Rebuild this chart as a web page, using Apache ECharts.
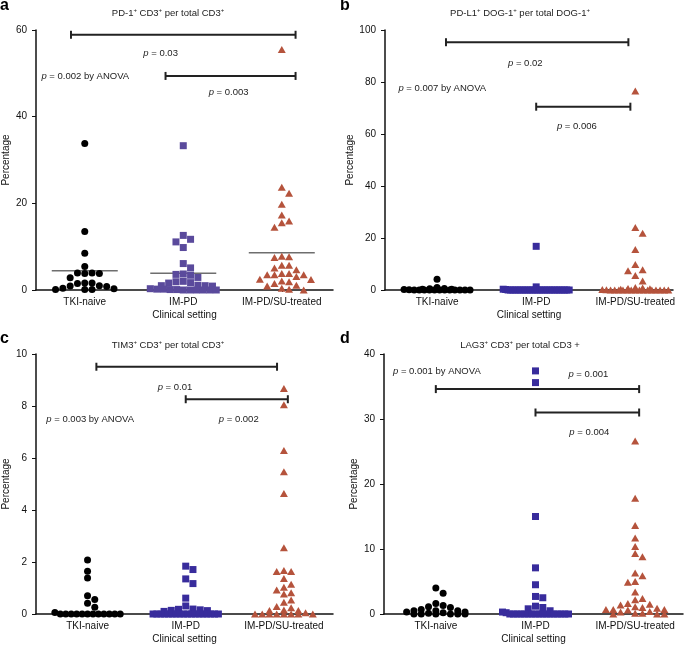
<!DOCTYPE html>
<html>
<head>
<meta charset="utf-8">
<script src="https://cdn.jsdelivr.net/npm/echarts@6/dist/echarts.min.js"></script>
<style>html,body{margin:0;padding:0;background:#fff}#c{width:685px;height:645px}</style>
</head>
<body>
<div id="c"></div>
<script>
// ---------- data ----------
const categories = ['TKI-naive', 'IM-PD', 'IM-PD/SU-treated'];

// panel a: PD-1+ CD3+ per total CD3+
const aTKI  = [33.8, 13.5, 8.5, 5.4, 3.9, 3.8, 3.8, 3.9, 2.8, 1.6, 1.6, 1.5, 1.0, 0.9, 0.8, 0.4, 0.1, 0.1, 0.1, 0.3];
const aIMPD = [33.3, 12.6, 11.7, 11.1, 9.8, 6.1, 5.1, 3.7, 3.6, 3.4, 2.9, 2.0, 1.9, 1.7, 1.6, 1.1, 1.0, 0.9, 1.0, 0.3, 0.2, 0.2, 0.1, 0.1, 0, 0, 0, 0, 0, 0];
const aSU   = [55.5, 23.7, 22.3, 19.8, 17.3, 15.9, 15.5, 14.5, 7.8, 7.7, 7.5, 5.7, 5.7, 5.1, 4.7, 3.8, 3.8, 3.5, 3.5, 3.5, 3.1, 2.5, 2.4, 2.1, 1.9, 1.5, 1.1, 0.9, 0.4, 0.2, 0.0];
const aMeans = [4.45, 3.85, 8.6];
const aBrackets = [[-0.14, 2.14, 58.9], [0.82, 2.14, 49.4]];
const aTexts = [[0.77, 54.7, 'p = 0.03', 'center'], [-0.44, 49.4, 'p = 0.002 by ANOVA', 'left'], [1.46, 45.5, 'p = 0.003', 'center']];

// panel b: PD-L1+ DOG-1+ per total DOG-1+
const bTKI  = [4.1, 1.0, 0.6, 0.5, 0.3, 0.3, 0.2, 0.1, 0, 0, 0, 0, 0, 0, 0, 0, 0, 0, 0, 0];
const bIMPD = [16.8, 1.2, 0.3, 0.2, 0, 0, 0, 0, 0, 0, 0, 0, 0, 0, 0, 0, 0, 0, 0, 0, 0, 0, 0, 0, 0, 0, 0, 0, 0, 0];
const bSU   = [76.5, 24.0, 21.8, 15.6, 9.8, 7.8, 7.4, 5.6, 3.5, 1.0, 0.8, 0.6, 0.5, 0.3, 0.2, 0.1, 0, 0, 0, 0, 0, 0, 0, 0, 0, 0, 0, 0, 0, 0, 0];
const bBrackets = [[0.09, 1.93, 95.3], [1.0, 1.95, 70.5]];
const bTexts = [[0.89, 87.0, 'p = 0.02', 'center'], [-0.39, 77.6, 'p = 0.007 by ANOVA', 'left'], [1.41, 62.8, 'p = 0.006', 'center']];

// panel c: TIM3+ CD3+ per total CD3+
const cTKI  = [2.08, 1.64, 1.38, 0.70, 0.56, 0.41, 0.26, 0.06, 0, 0, 0, 0, 0, 0, 0, 0, 0, 0, 0, 0];
const cIMPD = [1.84, 1.71, 1.35, 1.17, 0.61, 0.31, 0.19, 0.18, 0.16, 0.14, 0.13, 0.1, 0, 0, 0, 0, 0, 0, 0, 0, 0, 0, 0, 0, 0, 0, 0, 0, 0, 0];
const cSU   = [8.67, 8.05, 6.29, 5.47, 4.63, 2.55, 1.67, 1.63, 1.63, 1.37, 1.14, 1.03, 0.92, 0.82, 0.77, 0.54, 0.45, 0.29, 0.24, 0.15, 0.13, 0.13, 0.05, 0, 0, 0, 0, 0, 0, 0, 0];
const cBrackets = [[0.09, 1.93, 9.51], [1.0, 2.04, 8.26]];
const cTexts = [[0.89, 8.72, 'p = 0.01', 'center'], [-0.42, 7.49, 'p = 0.003 by ANOVA', 'left'], [1.54, 7.49, 'p = 0.002', 'center']];

// panel d: LAG3+ CD3+ per total CD3 +
const dTKI  = [4.0, 3.2, 1.6, 1.3, 1.1, 1.0, 0.7, 0.5, 0.5, 0.5, 0.3, 0.3, 0.2, 0.1, 0, 0, 0, 0, 0, 0];
const dIMPD = [37.4, 35.6, 15.0, 7.1, 4.5, 2.7, 2.5, 1.2, 1.0, 0.8, 0.5, 0.3, 0.2, 0, 0, 0, 0, 0, 0, 0, 0, 0, 0, 0, 0, 0, 0, 0, 0, 0];
const dSU   = [26.6, 17.8, 13.6, 11.7, 10.4, 9.3, 8.8, 6.3, 5.9, 5.0, 4.9, 3.4, 2.4, 2.2, 1.6, 1.5, 1.4, 1.1, 1.0, 0.9, 0.7, 0.7, 0.7, 0.6, 0.4, 0.3, 0.1, 0.1, 0, 0, 0];
const dBrackets = [[0, 2.04, 34.6], [1.0, 2.04, 31.0]];
const dTexts = [[-0.43, 37.3, 'p = 0.001 by ANOVA', 'left'], [1.53, 36.9, 'p = 0.001', 'center'], [1.54, 27.9, 'p = 0.004', 'center']];

const yMaxes = [60, 100, 10, 40];
const yIntervals = [20, 20, 2, 10];
const titles = [
  'PD-1{s|+} CD3{s|+} per total CD3{s|+}',
  'PD-L1{s|+} DOG-1{s|+} per total DOG-1{s|+}',
  'TIM3{s|+} CD3{s|+} per total CD3{s|+}',
  'LAG3{s|+} CD3{s|+} per total CD3 +'
];
const letters = ['a', 'b', 'c', 'd'];

// ---------- layout / style ----------
const FONT = '"Liberation Sans", Arial, Helvetica, sans-serif';
const grids = [
  {left: 36, top: 30, width: 297, height: 260},
  {left: 385, top: 30, width: 288, height: 260},
  {left: 33, top: 354, width: 300, height: 260},
  {left: 384, top: 354, width: 299, height: 260}
];
const xRanges = [[-0.495, 2.52], [-0.525, 2.38], [-0.525, 2.5], [-0.52, 2.48]];
const panelData = [[aTKI, aIMPD, aSU], [bTKI, bIMPD, bSU], [cTKI, cIMPD, cSU], [dTKI, dIMPD, dSU]];
const panelBrackets = [aBrackets, bBrackets, cBrackets, dBrackets];
const panelTexts = [aTexts, bTexts, cTexts, dTexts];
const symbols = ['circle', 'rect', 'triangle'];
const symbolSizes = [7, 7, [8, 7]];
const colorsA = ['#000000', '#5a4a9c', '#b5533c'];
const colorsB = ['#000000', '#382c9c', '#b5533c'];
const titlePos = [[168, 13], [520, 13], [168, 345], [520, 345]];
const letterPos = [[0, 6], [340, 6], [0, 339], [340, 339]];

// beeswarm offsets (pixels) computed from values
function swarm(values, ph, d, wmax) {
  const idx = values.map((v, i) => i).sort((a, b) => values[b] - values[a]);
  const placed = [];
  const off = new Array(values.length).fill(0);
  const maxSlot = Math.floor(wmax / d / 2 + 0.01);
  let i = 0;
  while (i < idx.length) {
    const y0 = values[idx[i]] * ph;
    let j = i;
    while (j < idx.length && y0 - values[idx[j]] * ph <= 2) j++;
    const row = idx.slice(i, j);
    const n = row.length;
    if ((n - 1) * d > wmax) {
      const s = wmax / (n - 1);
      row.forEach((k, r) => { off[k] = (r - (n - 1) / 2) * s; placed.push({x: off[k], y: values[k] * ph}); });
    } else {
      row.forEach(k => {
        const y = values[k] * ph;
        let best = null, bestScore = -1;
        for (let t = 0; t <= 2 * maxSlot; t++) {
          const slot = t === 0 ? 0 : (t % 2 ? (t + 1) / 2 : -t / 2);
          const x = slot * d;
          let minDist = Infinity;
          placed.forEach(p => {
            if (Math.abs(p.x - x) < d * 0.9) minDist = Math.min(minDist, Math.abs(p.y - y));
          });
          if (minDist >= d * 0.9) { best = x; break; }
          if (minDist > bestScore) { bestScore = minDist; best = x; }
        }
        off[k] = best; placed.push({x: best, y});
      });
    }
    i = j;
  }
  return off;
}

const xAxes = [], yAxes = [], series = [], graphics = [];
for (let p = 0; p < 4; p++) {
  const g = grids[p];
  const [xmin, xmax] = xRanges[p];
  const ppu = g.width / (xmax - xmin);
  const ph = g.height / yMaxes[p];
  xAxes.push({
    type: 'value', gridIndex: p, min: xmin, max: xmax,
    axisLine: {onZero: false, lineStyle: {color: '#111', width: 1.5}},
    axisTick: {show: true, customValues: [0, 1, 2], length: 2, lineStyle: {color: '#111'}},
    axisLabel: {customValues: [0, 1, 2], formatter: v => categories[Math.round(v)], margin: 7,
      fontSize: 10, color: '#111', fontFamily: FONT},
    splitLine: {show: false},
    name: 'Clinical setting', nameLocation: 'middle', nameGap: 20,
    nameTextStyle: {fontSize: 10, color: '#111', fontFamily: FONT}
  });
  yAxes.push({
    type: 'value', gridIndex: p, min: 0, max: yMaxes[p], interval: yIntervals[p],
    axisLine: {show: true, onZero: false, lineStyle: {color: '#111', width: 1.5}},
    axisTick: {show: true, length: 4, lineStyle: {color: '#111', width: 1}},
    axisLabel: {margin: 9, fontSize: 10, color: '#111', fontFamily: FONT},
    splitLine: {show: false},
    name: 'Percentage', nameLocation: 'middle', nameGap: 25, nameRotate: 90,
    nameTextStyle: {fontSize: 10, color: '#111', fontFamily: FONT}
  });
  const colors = p === 0 ? colorsA : colorsB;
  panelData[p].forEach((vals, gi) => {
    const off = swarm(vals, ph, 7.3, 66);
    series.push({
      type: 'scatter', xAxisIndex: p, yAxisIndex: p,
      symbol: symbols[gi], symbolSize: symbolSizes[gi],
      itemStyle: {color: colors[gi], opacity: 1},
      data: vals.map((v, i) => [gi + off[i] / ppu, v]),
      silent: true, z: 3
    });
  });
  if (p === 0) {
    series.push({
      type: 'custom', xAxisIndex: p, yAxisIndex: p, silent: true, z: 2,
      data: aMeans.map((m, gi) => [gi, m]),
      encode: {x: 0, y: 1},
      renderItem: (params, api) => {
        const c = api.coord([api.value(0), api.value(1)]);
        return {type: 'line', shape: {x1: c[0] - 33, y1: c[1], x2: c[0] + 33, y2: c[1]},
          style: {stroke: '#6e6e6e', lineWidth: 1.6}};
      }
    });
  }
  series.push({
    type: 'custom', xAxisIndex: p, yAxisIndex: p, silent: true, z: 4,
    data: panelBrackets[p],
    encode: {x: [0, 1], y: 2},
    renderItem: (params, api) => {
      const a = api.coord([api.value(0), api.value(2)]);
      const b = api.coord([api.value(1), api.value(2)]);
      const st = {stroke: '#222', lineWidth: 2};
      return {type: 'group', children: [
        {type: 'line', shape: {x1: a[0], y1: a[1], x2: b[0], y2: b[1]}, style: st},
        {type: 'line', shape: {x1: a[0], y1: a[1] - 4, x2: a[0], y2: a[1] + 4}, style: st},
        {type: 'line', shape: {x1: b[0], y1: b[1] - 4, x2: b[0], y2: b[1] + 4}, style: st}
      ]};
    }
  });
  const texts = panelTexts[p];
  series.push({
    type: 'custom', xAxisIndex: p, yAxisIndex: p, silent: true, z: 4,
    data: texts.map((t, i) => [t[0], t[1], i]),
    encode: {x: 0, y: 1},
    renderItem: (params, api) => {
      const t = texts[api.value(2)];
      const c = api.coord([api.value(0), api.value(1)]);
      return {type: 'text', x: c[0], y: c[1], style: {
        text: '{i|p}' + t[2].slice(1), fontSize: 9.5, fontFamily: FONT, fill: '#222',
        align: t[3], verticalAlign: 'middle',
        rich: {i: {fontStyle: 'italic', fontSize: 9.5, fontFamily: FONT, fill: '#222'}}
      }};
    }
  });
  graphics.push({
    type: 'text', x: titlePos[p][0], y: titlePos[p][1], silent: true,
    style: {text: titles[p], fontSize: 9.5, fontFamily: FONT, fill: '#222', align: 'center', verticalAlign: 'middle',
      lineHeight: 12,
      rich: {s: {fontSize: 6, fontFamily: FONT, fill: '#222', verticalAlign: 'top', lineHeight: 12}}}
  });
  graphics.push({
    type: 'text', x: letterPos[p][0], y: letterPos[p][1], silent: true,
    style: {text: letters[p], fontSize: 16, fontWeight: 'bold', fontFamily: FONT, fill: '#000', align: 'left', verticalAlign: 'middle'}
  });
}

const chart = echarts.init(document.getElementById('c'), null, {renderer: 'canvas'});
chart.setOption({
  animation: false,
  backgroundColor: '#fff',
  grid: grids,
  xAxis: xAxes,
  yAxis: yAxes,
  series: series,
  graphic: graphics
});
</script>
</body>
</html>
